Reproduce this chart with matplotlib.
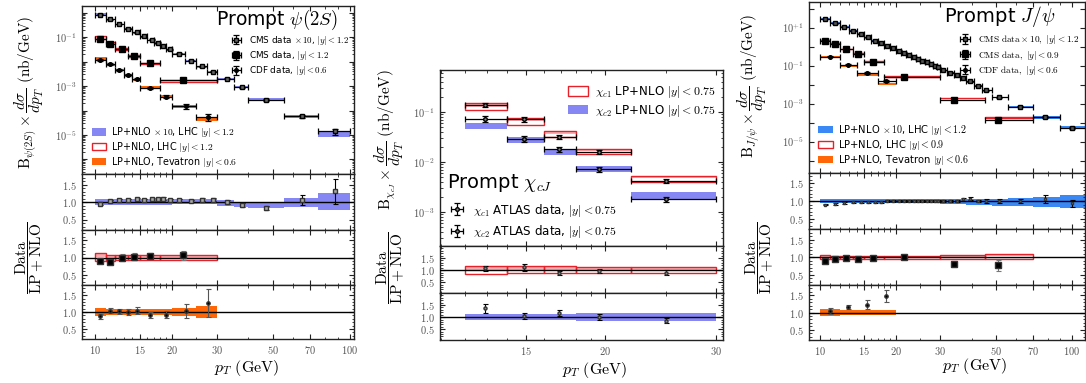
import numpy as np
import matplotlib
matplotlib.use("Agg")
import matplotlib.pyplot as plt
from matplotlib.patches import Patch
from matplotlib.ticker import FixedLocator, NullFormatter

plt.rcParams['mathtext.fontset'] = 'cm'
plt.rcParams['font.family'] = ['DejaVu Sans']

# ======================= psi(2S) =======================
psi_cms10_edges = [10, 11, 12, 13, 14, 15, 16, 17, 18, 19, 20, 22.5, 25, 27.5, 30, 35, 40, 55, 75, 100]
psi_cms10_pt = [10.46, 11.45, 12.45, 13.5, 14.57, 15.57, 16.7, 17.6, 18.55, 19.7, 21.35, 23.9, 26.3, 29.0,
                32.9, 37.9, 46.7, 64.9, 87.5]
psi_cms10_val = [0.085, 0.055, 0.035, 0.022, 0.016, 0.011, 0.008, 0.0059, 0.0043, 0.0032, 0.0021, 0.0011,
                 0.00065, 0.00039, 0.0002, 8.9e-5, 2.7e-5, 5.9e-6, 1.4e-6]
psi_cms10_err = [0.04, 0.04, 0.04, 0.04, 0.04, 0.04, 0.04, 0.04, 0.04, 0.04, 0.04, 0.04, 0.05, 0.05, 0.05,
                 0.06, 0.07, 0.13, 0.27]
psi_cms10_ratio = [0.95, 1.03, 1.05, 1.05, 1.08, 1.05, 1.08, 1.08, 1.1, 1.05, 1.05, 1.03, 1.07, 1.07, 1.0,
                   0.92, 0.83, 1.05, 1.31]
psi_cms10_lo = [0.92, 0.92, 0.92, 0.92, 0.92, 0.92, 0.92, 0.92, 0.92, 0.92, 0.94, 0.94, 0.94, 0.94, 0.9,
                0.86, 0.83, 0.85, 0.78]
psi_cms10_hi = [1.09, 1.09, 1.09, 1.09, 1.09, 1.09, 1.09, 1.09, 1.09, 1.09, 1.1, 1.1, 1.1, 1.1, 1.07,
                1.0, 1.0, 1.12, 1.25]

psi_cms_edges = [10, 11, 12, 13.5, 15, 18, 30]
psi_cms_pt = [10.46, 11.45, 12.8, 14.2, 16.4, 22.2]
psi_cms_val = [0.088, 0.052, 0.033, 0.0177, 0.0091, 0.00174]
psi_cms_err = [0.07, 0.07, 0.1, 0.1, 0.08, 0.12]
psi_cms_ratio = [0.90, 0.87, 0.99, 1.02, 1.05, 1.07]
psi_cms_lo = [0.89, 0.9, 0.92, 0.93, 0.94, 0.94]
psi_cms_hi = [1.12, 1.08, 1.07, 1.07, 1.06, 1.06]

psi_cdf_edges = [10, 11, 12, 13, 14, 15, 18, 20, 25, 30]
psi_cdf_pt = [10.46, 11.45, 12.45, 13.5, 14.57, 16.4, 19.0, 22.7, 27.8]
psi_cdf_val = [0.0118, 0.0078, 0.0045, 0.0028, 0.0019, 8.3e-4, 3.7e-4, 1.5e-4, 5.6e-5]
psi_cdf_err = [0.08, 0.08, 0.08, 0.08, 0.1, 0.1, 0.12, 0.2, 0.33]
psi_cdf_ratio = [0.87, 1.04, 1.02, 1.0, 1.04, 0.92, 0.92, 1.04, 1.26]
psi_cdf_lo = [0.87, 0.9, 0.9, 0.9, 0.9, 0.9, 0.9, 0.88, 0.83]
psi_cdf_hi = [1.12, 1.1, 1.1, 1.1, 1.1, 1.1, 1.1, 1.12, 1.17]

# ======================= chi_cJ =======================
chi_edges = [12, 14, 16, 18, 22, 30]
chi_pt = [12.9, 14.85, 16.9, 19.6, 25.0]
chi1_val = [0.137, 0.072, 0.032, 0.0158, 0.0042]
chi1_err = [0.1, 0.12, 0.1, 0.08, 0.1]
chi1_ratio = [1.07, 1.11, 0.875, 0.97, 0.9]
chi1_lo = [0.85, 0.86, 0.86, 0.87, 0.87]
chi1_hi = [1.16, 1.15, 1.15, 1.14, 1.14]
chi2_val = [0.072, 0.029, 0.018, 0.0072, 0.0018]
chi2_err = [0.13, 0.12, 0.1, 0.12, 0.12]
chi2_ratio = [1.36, 1.03, 1.16, 0.99, 0.85]
chi2_lo = [0.87, 0.87, 0.87, 0.85, 0.83]
chi2_hi = [1.12, 1.12, 1.12, 1.16, 1.16]

# ======================= J/psi =======================
jpsi_cms10_edges = [10, 11, 12, 13, 14, 15, 16, 17, 18, 19, 20, 21, 22, 23, 24, 25, 26, 27, 28, 29, 30,
                    32, 34, 36, 38, 41, 44, 48, 56, 70, 90, 120]
jpsi_cms10_pt = [10.5, 11.5, 12.5, 13.5, 14.5, 15.5, 16.5, 17.5, 18.5, 19.5, 20.5, 21.5, 22.5, 23.5, 24.5,
                 25.5, 26.5, 27.5, 28.5, 29.5, 30.9, 32.9, 34.9, 36.9, 39.4, 42.4, 45.8, 51.5, 62, 78, 100]
jpsi_cms10_val = [2.77, 1.7, 1.05, 0.69, 0.45, 0.31, 0.21, 0.15, 0.11, 0.085, 0.062, 0.048, 0.037, 0.029,
                  0.023, 0.0185, 0.015, 0.0125, 0.010, 0.0082, 0.0059, 0.0043, 0.0031, 0.0023, 0.0015,
                  0.0009, 0.0005, 0.00022, 6.9e-5, 2.0e-5, 5.2e-6]
jpsi_cms10_err = [0.03, 0.03, 0.03, 0.03, 0.03, 0.03, 0.03, 0.03, 0.03, 0.03, 0.03, 0.03, 0.03, 0.03, 0.03,
                  0.03, 0.03, 0.03, 0.03, 0.03, 0.03, 0.03, 0.03, 0.04, 0.04, 0.04, 0.05, 0.05, 0.07, 0.1, 0.12]
jpsi_cms10_ratio = [0.9, 0.91, 0.94, 0.96, 0.96, 0.98, 0.96, 0.98, 1.0, 1.0, 1.0, 1.0, 1.0, 1.0, 1.0, 1.0,
                    1.01, 1.01, 1.01, 1.0, 1.0, 0.99, 1.0, 1.05, 1.06, 1.0, 1.0, 1.0, 1.0, 1.06, 0.93]
jpsi_cms10_lo = [0.93, 0.93, 0.93, 0.93, 0.93, 0.93, 0.93, 0.93, 0.93, 0.93, 0.93, 0.93, 0.93, 0.93, 0.93,
                 0.93, 0.93, 0.93, 0.93, 0.93, 0.92, 0.92, 0.92, 0.91, 0.9, 0.9, 0.88, 0.87, 0.85, 0.82, 0.8]
jpsi_cms10_hi = [1.05, 1.05, 1.05, 1.05, 1.05, 1.05, 1.05, 1.05, 1.05, 1.05, 1.05, 1.05, 1.05, 1.05, 1.05,
                 1.05, 1.05, 1.05, 1.05, 1.05, 1.05, 1.05, 1.05, 1.05, 1.06, 1.06, 1.06, 1.07, 1.08, 1.12, 1.17]

jpsi_cms_edges = [10, 11, 12, 13.5, 15, 18, 30, 45, 70]
jpsi_cms_pt = [10.5, 11.47, 12.7, 14.1, 16.3, 21.6, 34, 50.7]
jpsi_cms_val = [2.0, 1.34, 0.73, 0.40, 0.16, 0.026, 1.6e-3, 1.4e-4]
jpsi_cms_err = [0.03, 0.03, 0.03, 0.03, 0.03, 0.03, 0.05, 0.22]
jpsi_cms_ratio = [0.89, 0.94, 0.97, 0.95, 0.97, 1.0, 0.81, 0.76]
jpsi_cms_lo = [0.95, 0.95, 0.95, 0.95, 0.95, 0.95, 0.95, 0.94]
jpsi_cms_hi = [1.05, 1.04, 1.04, 1.04, 1.04, 1.04, 1.05, 1.09]

jpsi_cdf_edges = [10, 12, 14, 17, 20]
jpsi_cdf_pt = [11.0, 12.9, 15.4, 18.3]
jpsi_cdf_val = [0.30, 0.11, 0.04, 0.016]
jpsi_cdf_err = [0.08, 0.06, 0.1, 0.12]
jpsi_cdf_ratio = [1.05, 1.16, 1.23, 1.47]
jpsi_cdf_lo = [0.9, 0.93, 0.93, 0.93]
jpsi_cdf_hi = [1.1, 1.07, 1.07, 1.07]

# ======================= styling =======================
BLUE_L = '#8787f4'
BLUE_R = '#3a87f6'
ORANGE = '#ff6608'
RED = '#e8202a'
PINK = '#f6b0b4'
W, H = 1086, 383

fig = plt.figure(figsize=(W / 100, H / 100), dpi=100)


def rect(x0, x1, yt, yb):
    return [x0 / W, 1 - yb / H, (x1 - x0) / W, (yb - yt) / H]


def style(ax):
    ax.tick_params(which='both', direction='in', top=True, right=True, colors='#222')
    ax.tick_params(which='both', labelsize=7.5, labelcolor='#555')
    ax.tick_params(which='major', length=3.5, width=0.8)
    ax.tick_params(which='minor', length=1.8, width=0.6)
    for s in ax.spines.values():
        s.set_linewidth(1.0)
        s.set_color('#222')


def set_xticks(ax, xlim, ticks, minor, labels):
    ax.set_xscale('log')
    ax.set_xlim(*xlim)
    ax.xaxis.set_major_locator(FixedLocator(ticks))
    ax.xaxis.set_minor_locator(FixedLocator(minor))
    ax.xaxis.set_minor_formatter(NullFormatter())
    if labels:
        ax.set_xticklabels([r'$%g$' % t for t in ticks])
    else:
        ax.tick_params(labelbottom=False)


def theory_fill(ax, edges, center, lo, hi, color):
    e = np.asarray(edges, float)
    c = np.asarray(center, float)
    lo = np.asarray(lo); hi = np.asarray(hi)
    ax.bar(e[:-1], c * (hi - lo), bottom=c * lo, width=np.diff(e), align='edge',
           color=color, linewidth=0, zorder=1)


def theory_outline(ax, edges, center, lo, hi):
    e = np.asarray(edges, float)
    c = np.asarray(center, float)
    lo = np.asarray(lo); hi = np.asarray(hi)
    mid = 0.5 * (lo + hi)
    ax.bar(e[:-1], c * (hi - mid), bottom=c * mid, width=np.diff(e), align='edge',
           color=PINK, linewidth=0, zorder=1)
    ax.bar(e[:-1], c * (hi - lo), bottom=c * lo, width=np.diff(e), align='edge',
           fill=False, edgecolor=RED, linewidth=1.0, zorder=2)


def data_main(ax, edges, pt, val, err, marker, ms, mfc, scale=1.0):
    e = np.asarray(edges, float)
    p = np.asarray(pt, float)
    v = np.asarray(val) * scale
    return ax.errorbar(p, v, xerr=[p - e[:-1], e[1:] - p], yerr=v * np.asarray(err),
                       fmt=marker, ms=ms, mfc=mfc, mec='k', color='k', ecolor='k',
                       elinewidth=0.9, capsize=2.0, capthick=0.9, zorder=4)


def data_ratio(ax, pt, ratio, err, marker, ms, mfc, ecol='k'):
    r = np.asarray(ratio)
    ax.errorbar(pt, r, yerr=r * np.asarray(err), fmt=marker, ms=ms, mfc=mfc, mec='#333',
                color='#333', ecolor=ecol, elinewidth=0.8, capsize=1.8, capthick=0.8, zorder=4)


def ratio_axis(ax, ylim, xlim, xt, xm, labels):
    style(ax)
    set_xticks(ax, xlim, xt, xm, labels)
    ax.set_ylim(*ylim)
    ax.set_yticks([0.5, 1.0, 1.5])
    ax.set_yticklabels([r'$0.5$', r'$1.0$', r'$1.5$'])
    ax.yaxis.set_minor_locator(FixedLocator([0.2, 0.3, 0.4, 0.6, 0.7, 0.8, 0.9, 1.1, 1.2, 1.3, 1.4,
                                             1.6, 1.7, 1.8, 1.9]))
    ax.axhline(1.0, color='k', lw=1.0, zorder=3)


def center_of(val, ratio, scale=1.0):
    return np.asarray(val) * scale / np.asarray(ratio)


XT = [10, 15, 20, 30, 50, 70, 100]
XM = [11, 12, 13, 14, 16, 17, 18, 19, 25, 40, 60, 80, 90]
ylab_ratio = r'$\dfrac{\mathrm{Data}}{\mathrm{LP}+\mathrm{NLO}}$'

# ======================= LEFT: psi(2S) =======================
xl = (8.89, 103.8)
axL = fig.add_axes(rect(82, 354, 6, 174))
style(axL)
set_xticks(axL, xl, XT, XM, False)
axL.set_yscale('log')
axL.set_ylim(10 ** -6.6, 10 ** 0.28)
axL.yaxis.set_major_locator(FixedLocator([1e-6, 1e-5, 1e-4, 1e-3, 1e-2, 1e-1, 1]))
axL.set_yticklabels(['', r'$10^{-5}$', '', r'$10^{-3}$', '', r'$10^{-1}$', ''])
axL.yaxis.set_minor_formatter(NullFormatter())

theory_fill(axL, psi_cms10_edges, center_of(psi_cms10_val, psi_cms10_ratio, 10), psi_cms10_lo, psi_cms10_hi, BLUE_L)
theory_outline(axL, psi_cms_edges, center_of(psi_cms_val, psi_cms_ratio), psi_cms_lo, psi_cms_hi)
theory_fill(axL, psi_cdf_edges, center_of(psi_cdf_val, psi_cdf_ratio), psi_cdf_lo, psi_cdf_hi, ORANGE)
hL1 = data_main(axL, psi_cms10_edges, psi_cms10_pt, psi_cms10_val, psi_cms10_err, 's', 2.6, '#666', 10)
hL2 = data_main(axL, psi_cms_edges, psi_cms_pt, psi_cms_val, psi_cms_err, 's', 4.0, 'k')
hL3 = data_main(axL, psi_cdf_edges, psi_cdf_pt, psi_cdf_val, psi_cdf_err, 'o', 2.6, 'k')

legL = axL.legend([hL1, hL2, hL3],
                  [r'CMS data $\times\,10$, $|y|<1.2$', r'CMS data, $|y|<1.2$', r'CDF data, $|y|<0.6$'],
                  loc='upper right', bbox_to_anchor=(1.0, 0.865), frameon=False, fontsize=6.4,
                  handlelength=1.6, labelspacing=0.25, borderaxespad=0.2, handletextpad=0.6)
axL.add_artist(legL)
axL.legend([Patch(facecolor=BLUE_L, edgecolor='none'), Patch(facecolor='white', edgecolor=RED, lw=1),
            Patch(facecolor=ORANGE, edgecolor='none')],
           [r'LP+NLO $\times\,10$, LHC $|y|<1.2$', r'LP+NLO, LHC $|y|<1.2$', r'LP+NLO, Tevatron $|y|<0.6$'],
           loc='lower left', bbox_to_anchor=(0.015, -0.005), frameon=False, fontsize=6.9,
           handlelength=1.5, handleheight=0.8, labelspacing=0.1, borderaxespad=0.2, handletextpad=0.5)
axL.text(0.94, 0.915, r'Prompt $\psi(2S)$', transform=axL.transAxes, ha='right', va='center', fontsize=13.5)

r1 = fig.add_axes(rect(82, 354, 174, 230))
ratio_axis(r1, (0.2, 1.8), xl, XT, XM, False)
theory_fill(r1, psi_cms10_edges, np.ones(len(psi_cms10_lo)), psi_cms10_lo, psi_cms10_hi, BLUE_L)
data_ratio(r1, psi_cms10_pt, psi_cms10_ratio, psi_cms10_err, 's', 2.2, '#aaa')

r2 = fig.add_axes(rect(82, 354, 230, 285))
ratio_axis(r2, (0.2, 1.8), xl, XT, XM, False)
theory_outline(r2, psi_cms_edges, np.ones(len(psi_cms_lo)), psi_cms_lo, psi_cms_hi)
data_ratio(r2, psi_cms_pt, psi_cms_ratio, psi_cms_err, 's', 4.0, 'k', '#777')

r3 = fig.add_axes(rect(82, 354, 285, 339))
ratio_axis(r3, (0.2, 1.8), xl, XT, XM, True)
theory_fill(r3, psi_cdf_edges, np.ones(len(psi_cdf_lo)), psi_cdf_lo, psi_cdf_hi, ORANGE)
data_ratio(r3, psi_cdf_pt, psi_cdf_ratio, psi_cdf_err, 'o', 2.4, 'k', '#555')

fig.text(29 / W, 1 - 92 / H, r'$\mathrm{B}_{\psi(2S)}\times\dfrac{d\sigma}{dp_T}\ (\mathrm{nb/GeV})$',
         rotation=90, ha='center', va='center', fontsize=11)
fig.text(30 / W, 1 - 258 / H, ylab_ratio, rotation=90, ha='center', va='center', fontsize=11)
fig.text(247 / W, 1 - 368 / H, r'$p_T\ (\mathrm{GeV})$', ha='center', va='center', fontsize=11.5)

# ======================= MIDDLE: chi_cJ =======================
xm = (10.94, 30.8)
XTm = [15, 20, 30]
XMm = [11, 12, 13, 14, 16, 17, 18, 19, 25]
axM = fig.add_axes(rect(440, 723, 70, 246))
style(axM)
set_xticks(axM, xm, XTm, XMm, False)
axM.set_yscale('log')
axM.set_ylim(10 ** -3.68, 10 ** -0.16)
axM.yaxis.set_major_locator(FixedLocator([1e-3, 1e-2, 1e-1]))
axM.set_yticklabels([r'$10^{-3}$', r'$10^{-2}$', r'$10^{-1}$'])
axM.yaxis.set_minor_formatter(NullFormatter())

theory_outline(axM, chi_edges, center_of(chi1_val, chi1_ratio), chi1_lo, chi1_hi)
theory_fill(axM, chi_edges, center_of(chi2_val, chi2_ratio), chi2_lo, chi2_hi, BLUE_L)
hM1 = data_main(axM, chi_edges, chi_pt, chi1_val, chi1_err, 'o', 2.6, '#888')
hM2 = data_main(axM, chi_edges, chi_pt, chi2_val, chi2_err, 'o', 2.6, '#888')

legM = axM.legend([Patch(facecolor='white', edgecolor=RED, lw=1), Patch(facecolor=BLUE_L, edgecolor='none')],
                  [r'$\chi_{c1}$ LP+NLO $|y|<0.75$', r'$\chi_{c2}$ LP+NLO $|y|<0.75$'],
                  loc='upper right', bbox_to_anchor=(1.0, 0.96), frameon=False, fontsize=8.6,
                  handlelength=1.7, handleheight=0.9, labelspacing=0.2, borderaxespad=0.2, handletextpad=0.6)
axM.add_artist(legM)
axM.legend([hM1, hM2], [r'$\chi_{c1}$ ATLAS data, $|y|<0.75$', r'$\chi_{c2}$ ATLAS data, $|y|<0.75$'],
           loc='lower left', bbox_to_anchor=(0.0, -0.005), frameon=False, fontsize=8.6,
           handlelength=1.6, labelspacing=0.35, borderaxespad=0.2, handletextpad=0.6)
axM.text(0.025, 0.358, r'Prompt $\chi_{cJ}$', transform=axM.transAxes, ha='left', va='center', fontsize=14)

m1 = fig.add_axes(rect(440, 723, 246, 293))
ratio_axis(m1, (0.05, 2.0), xm, XTm, XMm, False)
theory_outline(m1, chi_edges, np.ones(len(chi1_lo)), chi1_lo, chi1_hi)
data_ratio(m1, chi_pt, chi1_ratio, chi1_err, 'o', 2.2, '#888')

m2 = fig.add_axes(rect(440, 723, 293, 340))
ratio_axis(m2, (0.05, 2.0), xm, XTm, XMm, True)
theory_fill(m2, chi_edges, np.ones(len(chi2_lo)), chi2_lo, chi2_hi, BLUE_L)
data_ratio(m2, chi_pt, chi2_ratio, chi2_err, 'o', 2.2, '#888')

fig.text(389 / W, 1 - 140 / H, r'$\mathrm{B}_{\chi_{cJ}}\times\dfrac{d\sigma}{dp_T}\ (\mathrm{nb/GeV})$',
         rotation=90, ha='center', va='center', fontsize=11)
fig.text(391 / W, 1 - 268 / H, ylab_ratio, rotation=90, ha='center', va='center', fontsize=11)
fig.text(595 / W, 1 - 370 / H, r'$p_T\ (\mathrm{GeV})$', ha='center', va='center', fontsize=11.5)

# ======================= RIGHT: J/psi =======================
xr = (9.04, 112.7)
axR = fig.add_axes(rect(809, 1085, 2, 173))
style(axR)
set_xticks(axR, xr, XT, XM, False)
axR.set_yscale('log')
axR.set_ylim(10 ** -6.65, 10 ** 2.35)
axR.yaxis.set_major_locator(FixedLocator([1e-6, 1e-5, 1e-4, 1e-3, 1e-2, 1e-1, 1, 10, 100]))
axR.set_yticklabels(['', r'$10^{-5}$', '', r'$10^{-3}$', '', r'$10^{-1}$', '', r'$10^{+1}$', ''])
axR.yaxis.set_minor_formatter(NullFormatter())

theory_fill(axR, jpsi_cms10_edges, center_of(jpsi_cms10_val, jpsi_cms10_ratio, 10), jpsi_cms10_lo, jpsi_cms10_hi, BLUE_R)
theory_outline(axR, jpsi_cms_edges, center_of(jpsi_cms_val, jpsi_cms_ratio), jpsi_cms_lo, jpsi_cms_hi)
theory_fill(axR, jpsi_cdf_edges, center_of(jpsi_cdf_val, jpsi_cdf_ratio), jpsi_cdf_lo, jpsi_cdf_hi, ORANGE)
hR1 = data_main(axR, jpsi_cms10_edges, jpsi_cms10_pt, jpsi_cms10_val, jpsi_cms10_err, 's', 2.4, '#555', 10)
hR2 = data_main(axR, jpsi_cms_edges, jpsi_cms_pt, jpsi_cms_val, jpsi_cms_err, 's', 4.0, 'k')
hR3 = data_main(axR, jpsi_cdf_edges, jpsi_cdf_pt, jpsi_cdf_val, jpsi_cdf_err, 'o', 2.6, 'k')

legR = axR.legend([hR1, hR2, hR3],
                  [r'$\mathrm{CMS\ data}\times 10,\ |y|<1.2$', r'$\mathrm{CMS\ data},\ |y|<0.9$',
                   r'$\mathrm{CDF\ data},\ |y|<0.6$'],
                  loc='upper right', bbox_to_anchor=(1.0, 0.85), frameon=False, fontsize=6.7,
                  handlelength=1.6, labelspacing=0.25, borderaxespad=0.2, handletextpad=0.6)
axR.add_artist(legR)
axR.legend([Patch(facecolor=BLUE_R, edgecolor='none'), Patch(facecolor='white', edgecolor=RED, lw=1),
            Patch(facecolor=ORANGE, edgecolor='none')],
           [r'LP+NLO $\times\,10$, LHC $|y|<1.2$', r'LP+NLO, LHC $|y|<0.9$', r'LP+NLO, Tevatron $|y|<0.6$'],
           loc='lower left', bbox_to_anchor=(0.01, 0.0), frameon=False, fontsize=7.2,
           handlelength=1.5, handleheight=0.8, labelspacing=0.1, borderaxespad=0.2, handletextpad=0.5)
axR.text(0.895, 0.915, r'Prompt $J/\psi$', transform=axR.transAxes, ha='right', va='center', fontsize=14)

q1 = fig.add_axes(rect(809, 1085, 173, 229))
ratio_axis(q1, (0.2, 1.8), xr, XT, XM, False)
theory_fill(q1, jpsi_cms10_edges, np.ones(len(jpsi_cms10_lo)), jpsi_cms10_lo, jpsi_cms10_hi, BLUE_R)
data_ratio(q1, jpsi_cms10_pt, jpsi_cms10_ratio, jpsi_cms10_err, 's', 2.0, '#999')

q2 = fig.add_axes(rect(809, 1085, 229, 285))
ratio_axis(q2, (0.2, 1.8), xr, XT, XM, False)
theory_outline(q2, jpsi_cms_edges, np.ones(len(jpsi_cms_lo)), jpsi_cms_lo, jpsi_cms_hi)
data_ratio(q2, jpsi_cms_pt, jpsi_cms_ratio, jpsi_cms_err, 's', 4.0, 'k', '#777')

q3 = fig.add_axes(rect(809, 1085, 285, 340))
ratio_axis(q3, (0.2, 1.8), xr, XT, XM, True)
theory_fill(q3, jpsi_cdf_edges, np.ones(len(jpsi_cdf_lo)), jpsi_cdf_lo, jpsi_cdf_hi, ORANGE)
data_ratio(q3, jpsi_cdf_pt, jpsi_cdf_ratio, jpsi_cdf_err, 'o', 2.4, 'k', '#555')

fig.text(752 / W, 1 - 86 / H, r'$\mathrm{B}_{J/\psi}\times\dfrac{d\sigma}{dp_T}\ (\mathrm{nb/GeV})$',
         rotation=90, ha='center', va='center', fontsize=11)
fig.text(760 / W, 1 - 258 / H, ylab_ratio, rotation=90, ha='center', va='center', fontsize=11)
fig.text(975 / W, 1 - 366 / H, r'$p_T\ (\mathrm{GeV})$', ha='center', va='center', fontsize=11.5)

fig.savefig('out.png', dpi=100)
